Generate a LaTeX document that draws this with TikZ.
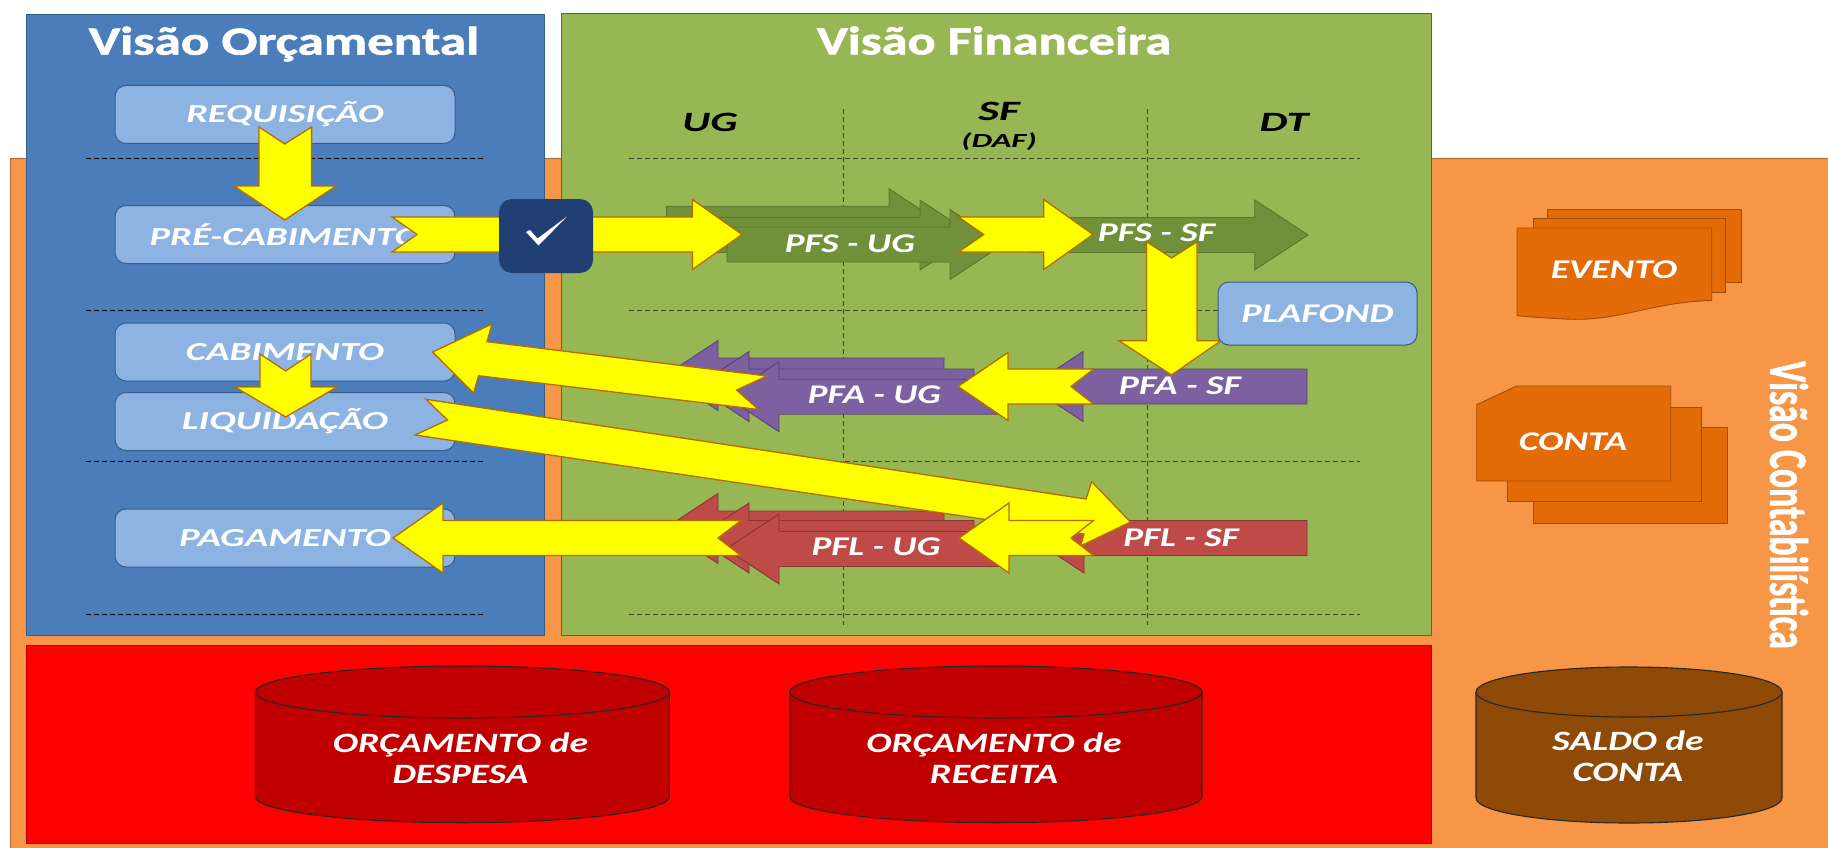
\documentclass[tikz,border=0pt]{standalone}
\usepackage{fontspec}
\usepackage{graphicx}
\setmainfont{Carlito}
\newfontfamily\ttlfont[BoldFeatures={FakeBold=1.3}]{Carlito}
\definecolor{bgorange}{HTML}{F79646}
\definecolor{bgblue}{HTML}{4A7DBA}
\definecolor{bggreen}{HTML}{97B755}
\definecolor{lblue}{HTML}{8DB3E2}
\definecolor{edgeblue}{HTML}{385D8A}
\definecolor{navy}{HTML}{1F3F73}
\definecolor{gdark}{HTML}{71903A}
\definecolor{pur}{HTML}{7D60A0}
\definecolor{redar}{HTML}{BE4B48}
\definecolor{darkred}{HTML}{C00000}
\definecolor{brown1}{HTML}{8F4A08}
\definecolor{org}{HTML}{E36C09}
\definecolor{yedge}{HTML}{B86C00}
\definecolor{yel}{RGB}{255,255,0}
\definecolor{purered}{RGB}{255,0,0}
\newcommand{\lbl}[3]{{\fontsize{#1}{#1}\selectfont\bfseries\itshape\scalebox{#2}[1]{#3}}}
\newcommand{\ttl}[3]{{\fontsize{#1}{#1}\selectfont\ttlfont\bfseries\scalebox{#2}[1]{#3}}}
% block arrow: style, tail x, head base x, tip x, centre y, notch x, body half height, head half height
\newcommand{\barrowR}[8]{\path[#1] (#2,#5-#7) -- (#3,#5-#7) -- (#3,#5-#8) -- (#4,#5) -- (#3,#5+#8) -- (#3,#5+#7) -- (#2,#5+#7) -- (#6,#5) -- cycle;}
\tikzset{
  x=1pt,y=-1pt,
  panel/.style={line width=0.8pt},
  lbox/.style={draw=edgeblue,fill=lblue,line width=1pt,rounded corners=11pt,minimum width=340pt,minimum height=58pt,inner sep=0pt,text=white},
  yarrow/.style={draw=yedge,fill=yel,line width=1.3pt,line join=miter},
  garrow/.style={draw=gdark!80!black,fill=gdark,line width=0.9pt},
  parrow/.style={draw=pur!70!black,fill=pur,line width=0.9pt},
  rarrow/.style={draw=redar!70!black,fill=redar,line width=0.9pt},
  lab/.style={text=white,inner sep=0pt},
  grid/.style={dash pattern=on 5pt off 3pt,line width=0.9pt,draw=black},
  docs/.style={draw=org!70!black,fill=org,line width=0.9pt},
  cyl/.style={draw=black!85,line width=1.1pt},
}
\newcommand{\cylinder}[6]{% fill, x1, x2, ytop centre, ybottom centre, ry
  \path[cyl,fill=#1] (#2,#4) -- (#2,#5) arc[start angle=180,end angle=0,x radius=(#3-#2)/2,y radius=#6] -- (#3,#4);
  \path[cyl,fill=#1] ({(#2+#3)/2},#4) ellipse[x radius=(#3-#2)/2,y radius=#6];
}
\begin{document}
\begin{tikzpicture}
\useasboundingbox (0,0) rectangle (1828,848);
\fill[white] (0,0) rectangle (1828,848);
% panels
\path[panel,draw=bgorange!70!black,fill=bgorange] (10,158) rectangle (1830,850);
\path[panel,draw=edgeblue,fill=bgblue] (26,14) rectangle (544,635);
\path[panel,draw=gdark!75!black,fill=bggreen] (561.5,13) rectangle (1431,635);
\path[panel,draw=purered!75!black,fill=purered] (26,645) rectangle (1431,843);
% titles
\node[lab] (torc) at (284,44) {\ttl{40}{1.33}{Visão Orçamental}};
\node[lab] (tfin) at (994,40.5) {\ttl{40}{1.31}{Visão Financeira}};
\node[lab,rotate=-90] (tcon) at (1789,505) {\ttl{54}{0.66}{Visão Contabilística}};
% grid
\foreach \yy in {158,310.7,461.7,614} {
  \draw[grid] (86,\yy) -- (485,\yy);
  \draw[grid,draw=black!75] (628.5,\yy) -- (1360,\yy);
}
\draw[grid,draw=black!75] (843,109) -- (843,625);
\draw[grid,draw=black!75] (1147.5,109) -- (1147.5,625);
\node[inner sep=0pt] (ug) at (710,122) {\lbl{28}{1.53}{UG}};
\node[inner sep=0pt] (sf) at (999,111) {\lbl{28}{1.6}{SF}};
\node[inner sep=0pt] (daf) at (999,142) {\lbl{20}{1.64}{(DAF)}};
\node[inner sep=0pt] (dt) at (1284,122) {\lbl{28}{1.58}{DT}};
% boxes
\node[lbox] (req) at (285,114.5) {\lbl{26}{1.48}{REQUISIÇÃO}};
\node[lbox] (pre) at (285,234.5) {\lbl{26}{1.49}{PRÉ-CABIMENTO}};
\node[lbox] (cab) at (285,352) {\lbl{26}{1.49}{CABIMENTO}};
\node[lbox] (liq) at (285,421.5) {\lbl{26}{1.51}{LIQUIDAÇÃO}};
\node[lbox] (pag) at (285,538) {\lbl{26}{1.49}{PAGAMENTO}};
% green arrows
\barrowR{garrow}{666.6}{889}{942}{223.7}{666.6}{17.5}{35}
\barrowR{garrow}{695}{920}{973}{235}{695}{17.5}{35}
\barrowR{garrow}{727}{950}{1003}{244.5}{727}{17.5}{35}
\barrowR{garrow}{1030}{1254.7}{1308}{235}{1030}{17.5}{35}
% purple arrows
\barrowR{parrow}{944}{718}{665}{375.5}{944}{17.5}{35}
\barrowR{parrow}{974}{749}{696}{386.5}{974}{17.5}{35}
\barrowR{parrow}{1002}{779}{726}{396.7}{1002}{17.5}{35}
\barrowR{parrow}{1307}{1083}{1030}{386.5}{1307}{17.5}{35}
% red arrows
\barrowR{rarrow}{944}{718}{665}{528.5}{944}{17.5}{35}
\barrowR{rarrow}{974}{749}{696}{538}{974}{17.5}{35}
\barrowR{rarrow}{1002}{779}{726}{549}{1002}{17.5}{35}
\barrowR{rarrow}{1307}{1084}{1031}{538}{1307}{17.5}{35}
% arrow labels
\node[lab] (pfsug) at (850,244) {\lbl{27}{1.38}{PFS - UG}};
\node[lab] (pfaug) at (874.5,395) {\lbl{27}{1.37}{PFA - UG}};
\node[lab] (pfasf) at (1180,385.7) {\lbl{27}{1.40}{PFA - SF}};
\node[lab] (pflug) at (876,547) {\lbl{27}{1.38}{PFL - UG}};
% yellow arrows
\path[yarrow] (259,127) -- (284.7,144) -- (311.6,127) -- (311.6,186) -- (336,186) -- (284.7,220) -- (234,186) -- (259,186) -- cycle;
\path[yarrow] (260,354) -- (285.7,371) -- (311,354) -- (311,387) -- (337,387) -- (285.7,417) -- (235,387) -- (260,387) -- cycle;
\barrowR{yarrow}{392}{692.4}{742}{234.5}{417}{17.5}{35}
\barrowR{yarrow}{958.4}{1043.7}{1093}{234.5}{983.7}{17.5}{35}
\node[lab] (pfssf) at (1156.5,233) {\lbl{27}{1.39}{PFS - SF}};
\path[yarrow] (1146.4,241.7) -- (1171.7,258) -- (1197,241.7) -- (1197,340.7) -- (1221,340.7) -- (1171.5,375) -- (1119,340.7) -- (1146.4,340.7) -- cycle;
\path[yarrow] (432.6,352) -- (492,324) -- (487,341.7) -- (767,376) -- (736.5,390) -- (758.5,409.5) -- (478.6,375.7) -- (473.5,393) -- cycle;
\path[yarrow] (426,399.3) -- (1086,499) -- (1091.7,481.7) -- (1130.4,522) -- (1080.5,546) -- (1084,534) -- (415,435) -- (447.5,420) -- cycle;
\barrowR{yarrow}{741}{443}{393}{538}{718}{17.5}{35}
\barrowR{yarrow}{1093.6}{1008}{958}{386.5}{1071}{17.5}{34}
\barrowR{yarrow}{1093.6}{1009}{959}{538}{1071}{17.5}{35}
\node[lab] (pflsf) at (1181,538) {\lbl{27}{1.38}{PFL - SF}};
% check box
\node[fill=navy,rounded corners=13pt,minimum width=94pt,minimum height=74pt,inner sep=0pt] (chk) at (546,236) {};
\fill[white] (526,232) -- (530,230) -- (537.5,238.5) -- (567,216.5) -- (538.5,245.5) -- cycle;
% plafond
\node[lbox,minimum width=199pt,minimum height=63pt] (pla) at (1317.5,313.5) {\lbl{27}{1.42}{PLAFOND}};
% documents
\path[docs] (1547.7,209.2) rectangle (1741.7,282.7);
\path[docs] (1533,218) rectangle (1725.7,292.5);
\path[docs] (1517,228) -- (1711.7,228) -- (1711.7,300.5) .. controls (1650,302) and (1620,322) .. (1565,319) .. controls (1545,318) and (1530,317) .. (1517,315.6) -- cycle;
\node[lab] (eve) at (1614,270) {\lbl{27}{1.39}{EVENTO}};
\path[docs] (1533,427.4) rectangle (1727,523);
\path[docs] (1507,407) rectangle (1701.7,501.7);
\path[docs] (1476.7,404.7) -- (1516.7,386) -- (1670.7,386) -- (1670.7,481) -- (1476.7,481) -- cycle;
\node[lab] (con) at (1573,441.6) {\lbl{27}{1.40}{CONTA}};
% cylinders
\cylinder{darkred}{255.4}{669.4}{692}{796.7}{26}
\cylinder{darkred}{789.8}{1202}{692}{796.7}{26}
\cylinder{brown1}{1476}{1782}{692}{798}{25}
\node[lab] (od1) at (460.5,744.5) {\lbl{28}{1.35}{ORÇAMENTO de}};
\node[lab] (od2) at (460.5,774) {\lbl{28}{1.33}{DESPESA}};
\node[lab] (or1) at (994,744.5) {\lbl{28}{1.35}{ORÇAMENTO de}};
\node[lab] (or2) at (994,774) {\lbl{28}{1.37}{RECEITA}};
\node[lab] (sal1) at (1628,741) {\lbl{28}{1.34}{SALDO de}};
\node[lab] (sal2) at (1628,772) {\lbl{28}{1.38}{CONTA}};
\end{tikzpicture}
\end{document}
